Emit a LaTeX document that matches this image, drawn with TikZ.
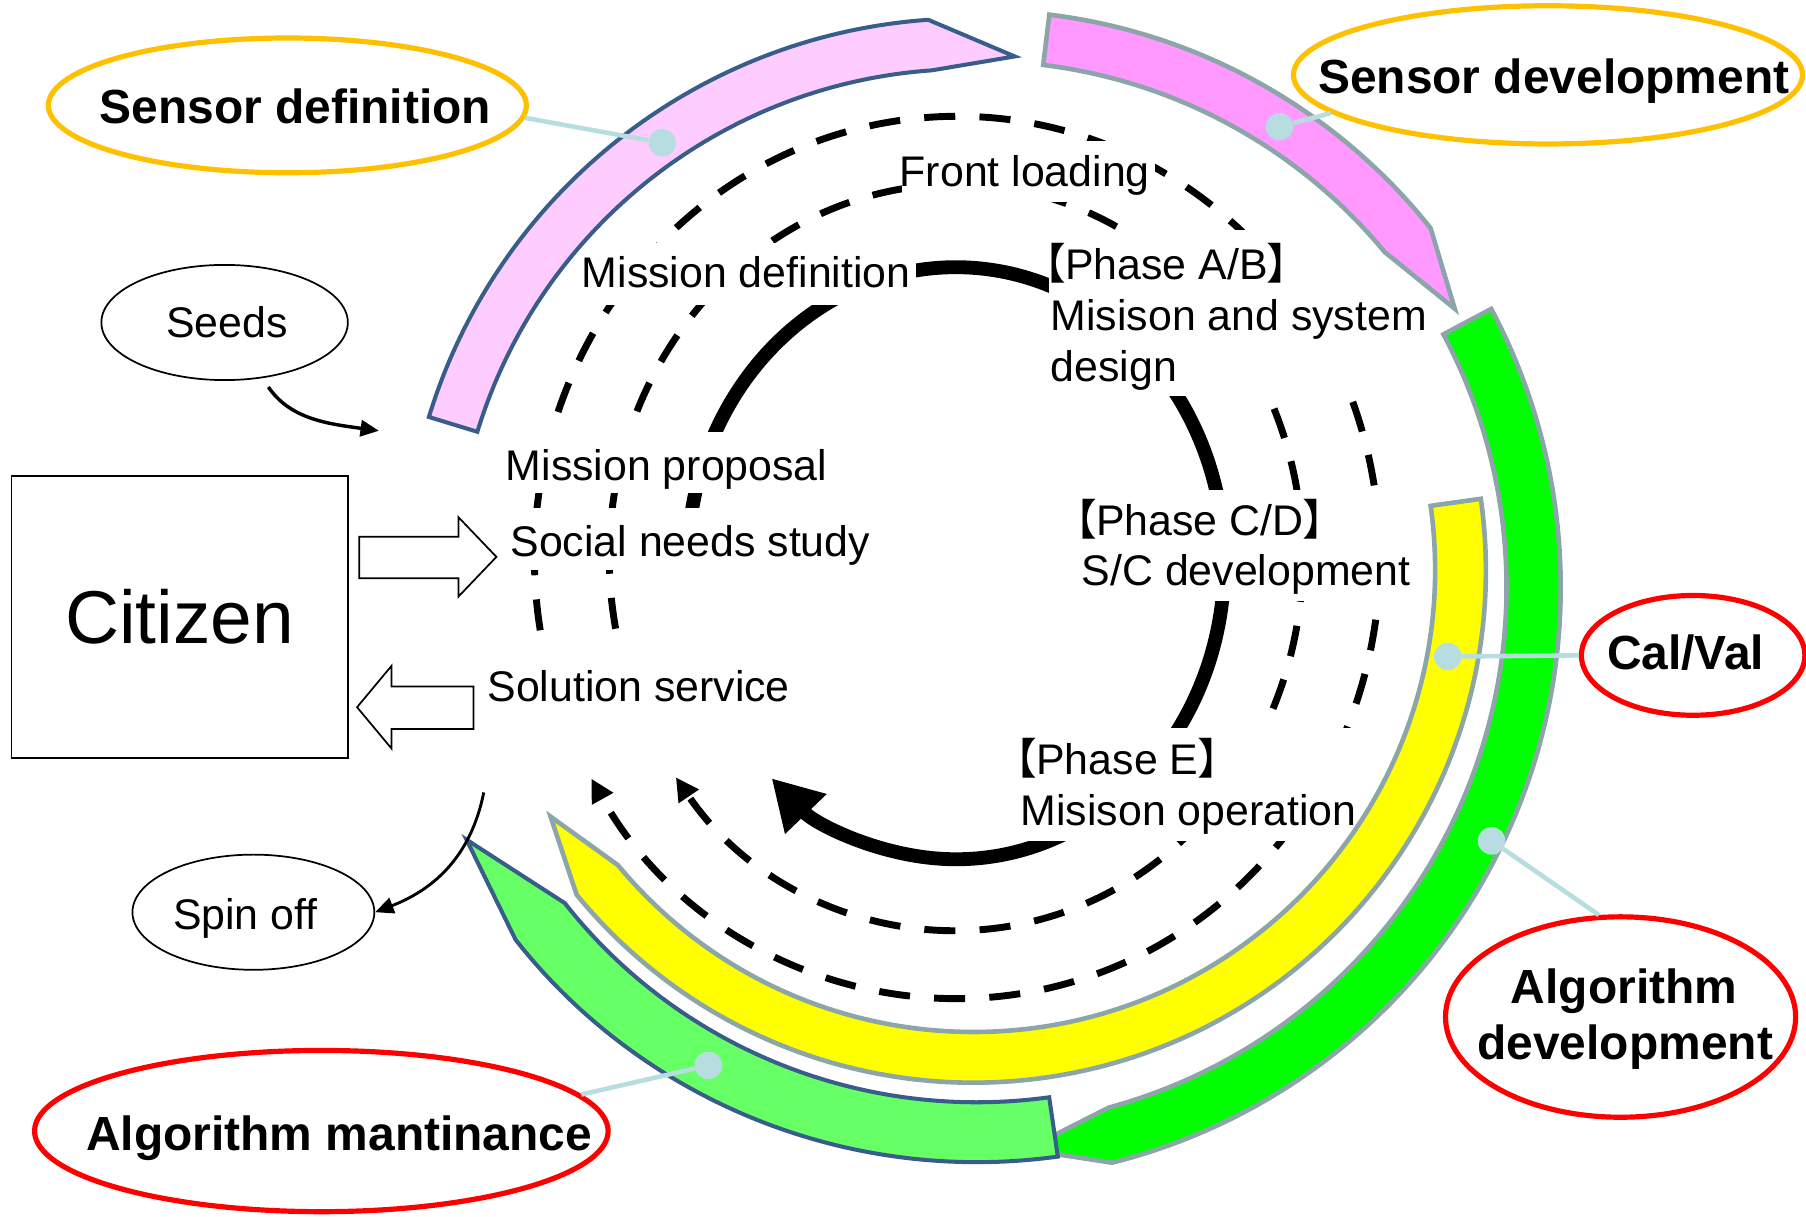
\documentclass[tikz,border=0pt]{standalone}
\usepackage{fontspec}
\setmainfont{Liberation Sans}
\newfontfamily\cjkfont[RawFeature=+palt]{Noto Sans CJK JP}
\usetikzlibrary{arrows.meta,shapes.geometric,calc}

\newcommand\lbrk{{\cjkfont 【}}
\newcommand\rbrk{{\cjkfont 】}}

\definecolor{pinkL}{RGB}{255,204,255}
\definecolor{pinkM}{RGB}{255,153,255}
\definecolor{greenS}{RGB}{0,255,0}
\definecolor{yellowS}{RGB}{255,255,0}
\definecolor{greenL}{RGB}{102,255,102}
\definecolor{edgeBlue}{RGB}{56,93,138}
\definecolor{edgeGray}{RGB}{140,165,168}
\definecolor{leaderC}{RGB}{183,221,224}
\definecolor{ovalOrange}{RGB}{255,192,0}
\definecolor{ovalRed}{RGB}{255,0,0}

\tikzset{
  txt/.style={font=\fontsize{37.2}{44}\selectfont, anchor=base west, inner sep=0pt},
  boldtxt/.style={font=\fontsize{41.6}{49}\selectfont\bfseries, anchor=base, inner sep=0pt},
  cutout/.style={fill=white},
  loopline/.style={line width=12pt, -{Triangle[length=43pt,width=47pt]}},
  dashloop/.style={line width=6pt, dash pattern=on 27pt off 21pt, -{Triangle[length=20pt,width=20pt]}},
  bandblue/.style={draw=edgeBlue, line width=3.5pt},
  bandgray/.style={draw=edgeGray, line width=4pt},
  leader/.style={draw=leaderC, line width=4pt},
  leaderdot/.style={circle, fill=leaderC, minimum size=24pt, inner sep=0pt},
  ovalring/.style={ellipse, line width=4.5pt, inner sep=0pt},
  thinoval/.style={ellipse, draw, line width=1.5pt, inner sep=0pt},
  blockarrow/.style={draw, line width=1.5pt, fill=white},
  thinarrow/.style={line width=3pt, -{Triangle[length=16pt,width=14pt]}},
}

\begin{document}
\begin{tikzpicture}[yscale=-1, x=1pt, y=1pt]
\useasboundingbox (0,0) rectangle (1568,1056);

% centres of the rings and bands
\coordinate (cBlack) at (830,489);
\coordinate (cOut)   at (831,484);
\coordinate (cIn)    at (830,484);
\coordinate (cPinkL) at (840,505);
\coordinate (cPinkM) at (850,510);
\coordinate (cGreen) at (840,510);
\coordinate (cYel)   at (845,495);
\coordinate (cGreenL) at (848,512);

% ---------- the life-cycle loop ----------
\draw[loopline] ($(cBlack)+(185:233 and 257)$)
  arc[start angle=185, end angle=493.4, x radius=233, y radius=257];
\draw[dashloop] ($(cOut)+(170.5:367 and 383)$)
  arc[start angle=170.5, end angle=509.9, x radius=367, y radius=383];
\draw[dashloop] ($(cIn)+(169:301 and 324)$)
  arc[start angle=169, end angle=503.9, x radius=301, y radius=324];

% white text frames that interrupt the loop
\fill[cutout] (783,122) rectangle (1003,175);
\fill[cutout] (503,211) rectangle (795,265);
\fill[cutout] (911,200) rectangle (1240,344);
\fill[cutout] (438,375) rectangle (722,428);
\fill[cutout] (440,441) rectangle (758,495);
\fill[cutout] (935,425) rectangle (1225,522);
\fill[cutout] (880,632) rectangle (1180,730);

% ---------- activity bands ----------
% sensor definition
\draw[bandblue, fill=pinkL] ($(cPinkL)+(197:489)$)
  arc[start angle=197, end angle=266, radius=489] -- (881,49)
  -- ($(cPinkL)+(266:445)$) arc[start angle=266, end angle=197, radius=445] -- cycle;
% sensor development
\draw[bandgray, fill=pinkM] ($(cPinkM)+(277:501)$)
  arc[start angle=277, end angle=321.5, radius=501] -- (1263,268)
  -- ($(cPinkM)+(320.4:457)$) arc[start angle=320.4, end angle=277, radius=457] -- cycle;
% algorithm development
\draw[bandgray, fill=greenS] ($(cGreen)+(-28:515)$)
  arc[start angle=-28, end angle=75.9, radius=515] -- (891,998)
  -- ($(cGreen)+(74.8:468)$) arc[start angle=74.8, end angle=-28, radius=468] -- cycle;
% cal/val
\draw[bandgray, fill=yellowS] ($(cYel)+(-8:445)$)
  arc[start angle=-8, end angle=140.7, radius=445] -- (478,709)
  -- ($(cYel)+(140.3:401)$) arc[start angle=140.3, end angle=-8, radius=401] -- cycle;
% algorithm maintenance
\draw[bandblue, fill=greenL] ($(cGreenL)+(82:506 and 497)$)
  arc[start angle=82, end angle=142.3, x radius=506, y radius=497] -- (405,729)
  -- ($(cGreenL)+(142.3:452 and 445)$)
  arc[start angle=142.3, end angle=82, x radius=452, y radius=445] -- cycle;

% ---------- ovals and leaders ----------
\node[ovalring, draw=ovalOrange, minimum width=415pt, minimum height=117pt] (ovSD) at (249.5,91.5) {};
\node[ovalring, draw=ovalOrange, minimum width=442pt, minimum height=120pt] (ovSDev) at (1344,65) {};
\node[ovalring, draw=ovalRed, minimum width=194pt, minimum height=104pt] (ovCV) at (1470,569) {};
\node[ovalring, draw=ovalRed, minimum width=304pt, minimum height=174pt] (ovAD) at (1407,883) {};
\node[ovalring, draw=ovalRed, minimum width=498pt, minimum height=140pt] (ovAM) at (279,982) {};

\node[leaderdot] (dSD)   at (575,124) {};
\node[leaderdot] (dSDev) at (1111,110) {};
\node[leaderdot] (dCV)   at (1257,570) {};
\node[leaderdot] (dAD)   at (1295,730) {};
\node[leaderdot] (dAM)   at (615,925) {};

\draw[leader] (ovSD.-3) -- (dSD);
\draw[leader] (ovSDev.190) -- (dSDev);
\draw[leader] (ovCV.west) -- (dCV);
\draw[leader] (ovAD.102) -- (dAD);
\draw[leader] (ovAM.8) -- (dAM);

\node[boldtxt] (tSD) at (256.5,107.5) {Sensor definition};
\node[boldtxt] (tSDev) at (1349,81.5) {Sensor development};
\node[boldtxt] (tCV) at (1463.5,581) {Cal/Val};
\node[boldtxt] (tAD1) at (1410,871) {Algorithm};
\node[boldtxt] (tAD2) at (1411,920) {development};
\node[boldtxt] (tAM) at (294.5,999) {Algorithm mantinance};

% ---------- loop labels ----------
\node[txt] (front) at (781,162) {Front loading};
\node[txt] (mdef) at (505,250) {Mission definition};
\node[txt] (mprop) at (439,417) {Mission proposal};
\node[txt] (needs) at (443,483) {Social needs study};
\node[txt] (sol) at (423,609) {Solution service};
\node[txt] (pAB) at (906,243) {\lbrk Phase A/B\rbrk};
\node[txt] (pAB2) at (912,287) {Misison and system};
\node[txt] (pAB3) at (912,331) {design};
\node[txt] (pCD) at (933,465) {\lbrk Phase C/D\rbrk};
\node[txt] (pCD2) at (939,508.5) {S/C development};
\node[txt] (pE) at (881,672) {\lbrk Phase E\rbrk};
\node[txt] (pE2) at (886,717) {Misison operation};

% ---------- citizen side ----------
\node[draw, line width=1.5pt, minimum width=292pt, minimum height=245pt,
      inner sep=0pt, font=\fontsize{65}{70}\selectfont] (citizen) at (156,535.5) {Citizen};
\node[thinoval, minimum width=214pt, minimum height=100pt] (seeds) at (195,280) {};
\node[txt, anchor=base] (seedstxt) at (197,293) {Seeds};
\node[thinoval, minimum width=210pt, minimum height=100pt] (spin) at (220,792) {};
\node[txt, anchor=base] (spintxt) at (213,807) {Spin off};

\draw[blockarrow] (312,466) -- (398,466) -- (398,449) -- (431,483.5) -- (398,518)
  -- (398,502) -- (312,502) -- cycle;
\draw[blockarrow] (411,596) -- (340,596) -- (340,578) -- (310,614) -- (340,650)
  -- (340,633) -- (411,633) -- cycle;

\coordinate (seedsOut) at (233,336);
\coordinate (seedsIn) at (329,374);
\coordinate (spinSrc) at (420,688);
\draw[thinarrow] (seedsOut) .. controls (252,364) and (285,368) .. (seedsIn);
\draw[thinarrow, line width=2.5pt] (spinSrc) .. controls (408,748) and (372,774) .. (spin.east);
\end{tikzpicture}
\end{document}
